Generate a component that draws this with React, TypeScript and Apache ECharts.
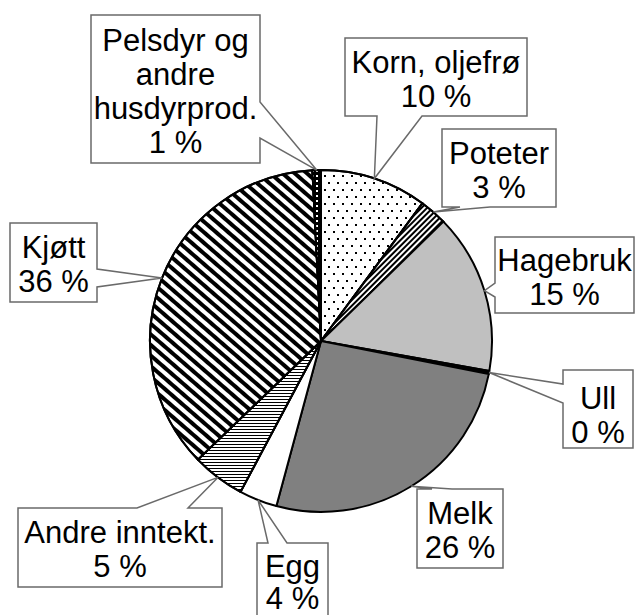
import React, { useEffect, useRef } from "react";
import * as echarts from "echarts";

// ---- data ----
const categories = [
  "Korn, oljefrø",
  "Poteter",
  "Hagebruk",
  "Ull",
  "Melk",
  "Egg",
  "Andre inntekt.",
  "Kjøtt",
  "Pelsdyr og andre husdyrprod.",
];
const labelTexts = [
  "Korn, oljefrø",
  "Poteter",
  "Hagebruk",
  "Ull",
  "Melk",
  "Egg",
  "Andre inntekt.",
  "Kjøtt",
  "Pelsdyr og\nandre\nhusdyrprod.",
];
const values = [10.1, 2.6, 15.1, 0.3, 26.1, 3.6, 5.0, 36.4, 0.8];

// ---- layout / style ----
const CX = 321;
const CY = 341;
const R = 171;
const FONT = '"Liberation Sans", Arial, sans-serif';
const BOX_STROKE = "#6a6a6a";

type Side = "top" | "bottom" | "left" | "right";
interface Callout {
  box: [number, number, number, number];
  side: Side;
  base: [number, number];
  dy?: number;
  lh?: number;
}
const callouts: Callout[] = [
  { box: [345, 38, 182, 78], side: "bottom", base: [377, 422] },
  { box: [442, 129, 114, 78], side: "bottom", base: [460, 490] },
  { box: [495, 237, 139, 76], side: "left", base: [283, 297] },
  { box: [563, 370, 70, 78], side: "left", base: [384, 403], dy: 4 },
  { box: [417, 489, 86, 79], side: "top", base: [432, 452] },
  { box: [257, 543, 71, 84], side: "top", base: [268, 287], dy: -5, lh: 32 },
  { box: [18, 508, 204, 79], side: "top", base: [137, 188] },
  { box: [10, 223, 87, 79], side: "right", base: [269, 287] },
  { box: [91, 15, 169, 148], side: "right", base: [102, 138] },
];

const sliceStyles: any[] = [
  {
    color: "#ffffff",
    decal: {
      symbol: "rect",
      symbolSize: 1,
      color: "#000000",
      dashArrayX: [
        [1.5, 6.5],
        [0, 4, 1.5, 2.5],
      ],
      dashArrayY: [1.5, 4.2],
      rotation: 0,
    },
  },
  {
    color: "#ffffff",
    decal: {
      symbol: "rect",
      symbolSize: 1,
      color: "#000000",
      dashArrayX: [1, 0],
      dashArrayY: [1.5, 1.5],
      rotation: -Math.PI / 4,
    },
  },
  { color: "#c0c0c0" },
  { color: "#000000" },
  { color: "#808080" },
  { color: "#ffffff" },
  {
    color: "#ffffff",
    decal: {
      symbol: "rect",
      symbolSize: 1,
      color: "#000000",
      dashArrayX: [1, 0],
      dashArrayY: [1, 1.8],
      rotation: 0,
    },
  },
  {
    color: "#ffffff",
    decal: {
      symbol: "rect",
      symbolSize: 1,
      color: "#000000",
      dashArrayX: [1, 0],
      dashArrayY: [3.3, 3.7],
      rotation: Math.PI / 4.4,
    },
  },
  {
    color: "#000000",
    decal: {
      symbol: "rect",
      symbolSize: 1,
      color: "#ffffff",
      dashArrayX: [2, 2],
      dashArrayY: [1.5, 2.5],
      rotation: 0,
    },
  },
];

function calloutPolygon(c: Callout, tip: [number, number]): number[][] {
  const [x, y, w, h] = c.box;
  const [b1, b2] = c.base;
  const pts: number[][] = [];
  pts.push([x, y]);
  if (c.side === "top") pts.push([b1, y], tip, [b2, y]);
  pts.push([x + w, y]);
  if (c.side === "right") pts.push([x + w, b1], tip, [x + w, b2]);
  pts.push([x + w, y + h]);
  if (c.side === "bottom") pts.push([b2, y + h], tip, [b1, y + h]);
  pts.push([x, y + h]);
  if (c.side === "left") pts.push([x, b2], tip, [x, b1]);
  return pts;
}

export default function App() {
  const ref = useRef<HTMLDivElement>(null);

  useEffect(() => {
    if (!ref.current) return;
    const chart = echarts.init(ref.current, undefined, { renderer: "svg" });

    const total = values.reduce((a, b) => a + b, 0);
    const graphics: any[] = [];
    let cum = 0;
    values.forEach((v, i) => {
      const mid = (cum + v / 2) / total;
      cum += v;
      const ang = mid * Math.PI * 2;
      const tip: [number, number] = [
        CX + R * Math.sin(ang),
        CY - R * Math.cos(ang),
      ];
      const c = callouts[i];
      const [x, y, w, h] = c.box;
      graphics.push({
        type: "polygon",
        z: 100,
        silent: true,
        shape: { points: calloutPolygon(c, tip) },
        style: { fill: "#ffffff", stroke: BOX_STROKE, lineWidth: 1.5 },
      });
      graphics.push({
        type: "text",
        z: 101,
        silent: true,
        x: x + w / 2,
        y: y + h / 2 + 2 + (c.dy || 0),
        style: {
          text: labelTexts[i] + "\n" + Math.round((v / total) * 100) + " %",
          fontSize: 31,
          fontFamily: FONT,
          fill: "#000000",
          align: "center",
          verticalAlign: "middle",
          textAlign: "center",
          textVerticalAlign: "middle",
          lineHeight: c.lh || 34,
        },
      });
    });

    chart.setOption({
      animation: false,
      backgroundColor: "#ffffff",
      graphic: graphics,
      series: [
        {
          type: "pie",
          center: [CX, CY],
          radius: R,
          startAngle: 90,
          clockwise: true,
          silent: true,
          label: { show: false },
          labelLine: { show: false },
          emphasis: { disabled: true },
          itemStyle: { borderColor: "#000000", borderWidth: 2 },
          data: categories.map((name, i) => ({
            name,
            value: values[i],
            itemStyle: {
              color: sliceStyles[i].color,
              decal: sliceStyles[i].decal,
              borderColor: "#000000",
              borderWidth: 2,
            },
          })),
        },
      ],
    });

    return () => chart.dispose();
  }, []);

  return (
    <div
      ref={ref}
      style={{ position: "absolute", left: 0, top: 0, width: 636, height: 615 }}
    />
  );
}
